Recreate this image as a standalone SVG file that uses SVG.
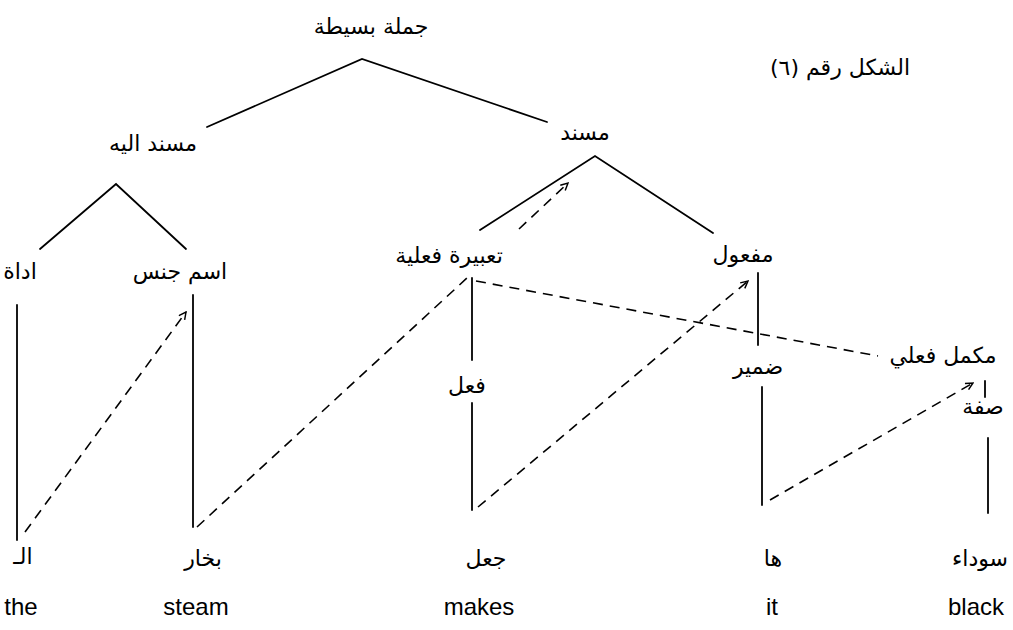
<svg xmlns="http://www.w3.org/2000/svg" width="1013" height="630" viewBox="0 0 1013 630">
<style>
.ar{font-family:"DejaVu Sans","Noto Sans",sans-serif;font-size:22px;fill:#000;text-anchor:middle}
.en{font-family:"Liberation Sans",Arial,sans-serif;font-size:24px;fill:#000;text-anchor:middle}
.ln{stroke:#000;stroke-width:1.8;fill:none;stroke-linecap:round}
.ds{stroke:#000;stroke-width:1.6;fill:none;stroke-dasharray:10 7}
</style>
<defs>
<marker id="arr" viewBox="0 0 10 10" refX="9" refY="5" markerWidth="9" markerHeight="9" markerUnits="userSpaceOnUse" orient="auto">
<path d="M1,1 L9,5 L1,9" stroke="#000" stroke-width="1.6" fill="none"/>
</marker>
</defs>
<rect width="1013" height="630" fill="#fff"/>
<g id="connectors">
<path class="ln" d="M207,127 L362,59 L547,122"/>
<path class="ln" d="M40,249 L116,184 L186,249"/>
<path class="ln" d="M480,230 L595,156 L713,233"/>
<path class="ln" d="M17,305 L17,540"/>
<path class="ln" d="M193,295 L193,527"/>
<path class="ln" d="M472,278 L472,360"/>
<path class="ln" d="M472,403 L472,510"/>
<path class="ln" d="M758,273 L758,345"/>
<path class="ln" d="M762,387 L762,505"/>
<path class="ln" d="M985,381 L985,397"/>
<path class="ln" d="M988,438 L988,513"/>
<path class="ds" d="M519,229 L568,183" marker-end="url(#arr)"/>
<path class="ds" d="M25,532 L186,312" marker-end="url(#arr)"/>
<path class="ds" d="M197,527 L467,278"/>
<path class="ds" d="M476,281 L878,356"/>
<path class="ds" d="M478,507 L748,281" marker-end="url(#arr)"/>
<path class="ds" d="M770,500 L973,383" marker-end="url(#arr)"/>
</g>
<g id="title"><text class="ar" x="371" y="34" font-size="24">جملة بسيطة</text></g>
<g id="caption"><text class="ar" x="840" y="75" font-size="26">الشكل رقم (٦)</text></g>
<g id="n-musnad-ilayh"><text class="ar" x="153" y="151" font-size="24">مسند اليه</text></g>
<g id="n-musnad"><text class="ar" x="585" y="140">مسند</text></g>
<g id="n-adat"><text class="ar" x="20" y="279">اداة</text></g>
<g id="n-ism-jins"><text class="ar" x="180" y="279">اسم جنس</text></g>
<g id="n-tabira"><text class="ar" x="449" y="263" font-size="23">تعبيرة فعلية</text></g>
<g id="n-mafool"><text class="ar" x="743" y="262">مفعول</text></g>
<g id="n-fil"><text class="ar" x="467" y="393">فعل</text></g>
<g id="n-damir"><text class="ar" x="758" y="374">ضمير</text></g>
<g id="n-mukammil"><text class="ar" x="943" y="363" font-size="25">مكمل فعلي</text></g>
<g id="n-sifa"><text class="ar" x="983" y="414">صفة</text></g>
<g id="n-al"><text class="ar" x="23" y="564">الـ</text></g>
<g id="n-bukhar"><text class="ar" x="203" y="566">بخار</text></g>
<g id="n-jaal"><text class="ar" x="486" y="566">جعل</text></g>
<g id="n-ha"><text class="ar" x="773" y="566">ها</text></g>
<g id="n-sawda"><text class="ar" x="980" y="566">سوداء</text></g>
<g id="n-the"><text class="en" x="21" y="615">the</text></g>
<g id="n-steam"><text class="en" x="196" y="615">steam</text></g>
<g id="n-makes"><text class="en" x="479" y="615">makes</text></g>
<g id="n-it"><text class="en" x="772" y="615">it</text></g>
<g id="n-black"><text class="en" x="976" y="615">black</text></g>
</svg>
